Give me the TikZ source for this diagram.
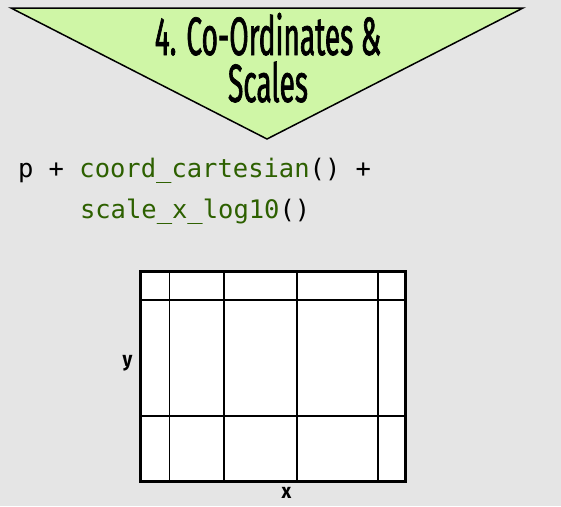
\documentclass[tikz,border=0pt]{standalone}
\usepackage{fontspec}
\usepackage{xcolor}
\setmonofont{DejaVu Sans Mono}
\newfontfamily\titlefont[FakeStretch=0.52, FakeBold=1.2]{Fira Sans}
\newfontfamily\axisfont[FakeStretch=0.9]{Fira Sans}
\usetikzlibrary{positioning}

\definecolor{panelgray}{HTML}{E5E5E5}
\definecolor{headgreen}{HTML}{CFF6A6}
\definecolor{fngreen}{HTML}{2D6000}

\begin{document}
\begin{tikzpicture}[x=1pt, y=-1pt, inner sep=0pt, outer sep=0pt]

      \fill[panelgray] (0,0) rectangle (561,506);
      \useasboundingbox (0,0) rectangle (561,506);

      \tikzstyle{heading}=[font=\titlefont\fontsize{54}{54}\selectfont, anchor=base, text height=37pt, text depth=1pt]
      \tikzstyle{code}=[font=\ttfamily\fontsize{25.5}{25.5}\selectfont, anchor=base west]
      \tikzstyle{axislabel}=[font=\axisfont\bfseries\fontsize{21}{21}\selectfont, anchor=base]
      \tikzstyle{minor}=[line width=1.3pt]
      \tikzstyle{major}=[line width=2pt]

      % banner
      \coordinate (tl) at (11,8);
      \coordinate (tr) at (523,8);
      \coordinate (tip) at (267,139);
      \draw[fill=headgreen, line width=1.5pt, line join=miter] (tl) -- (tr) -- (tip) -- cycle;
      \node[heading] (title1) at (268,55) {4. Co-Ordinates \&};
      \node[heading] (title2) at (268,102) {Scales};

      % code
      \node[code] (line1) at (18,177) {p + {\color{fngreen}coord\_cartesian}() +};
      \node[code] (line2) at (80,218) {{\color{fngreen}scale\_x\_log10}()};

      % panel
      \coordinate (ll) at (140,481);
      \coordinate (ur) at (405.5,271);
      \fill[white] (ll) rectangle (ur);
      \foreach \gx in {169.3, 378} \draw[minor] (\gx,271) -- (\gx,481);
      \foreach \gx in {224, 296.7} \draw[major] (\gx,271) -- (\gx,481);
      \draw[minor] (140,300) -- (405.5,300);
      \draw[major] (140,415.7) -- (405.5,415.7);
      \draw[line width=3pt] (ll) rectangle (ur);

      \node[axislabel] (ylab) at (127.5,366) {y};
      \node[axislabel] (xlab) at (286.5,498) {x};
    \end{tikzpicture}
\end{document}
